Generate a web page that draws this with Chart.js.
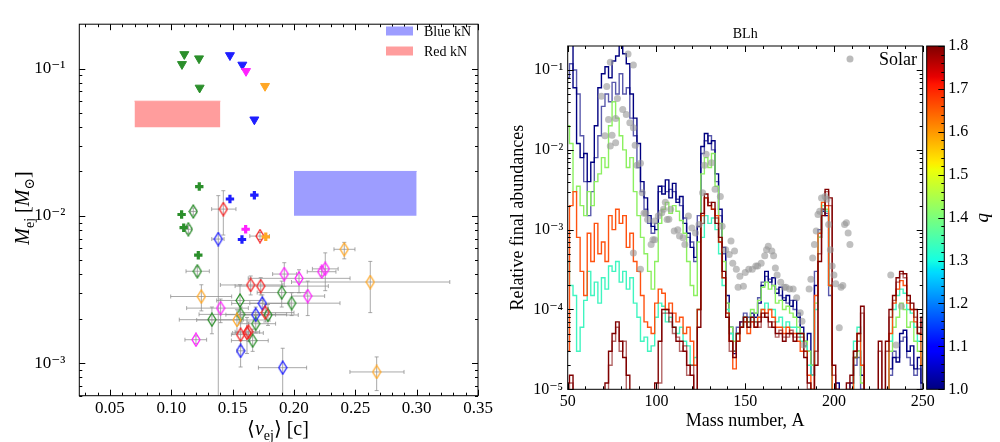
<!DOCTYPE html>
<html>
<head>
<meta charset="utf-8">
<script src="https://cdn.jsdelivr.net/npm/chart.js@4.4.1/dist/chart.umd.min.js"></script>
<style>
  body { margin: 0; background: #fff; }
  #wrap { position: relative; width: 1000px; height: 442px; }
  canvas { position: absolute; top: 0; }
</style>
</head>
<body>
<div id="wrap">
  <canvas id="left" width="500" height="442" style="left:0"></canvas>
  <canvas id="right" width="500" height="442" style="left:500px"></canvas>
</div>
<script>
const FONT = '"Liberation Serif", "DejaVu Serif", serif';

// ---------- left panel: ejecta mass vs mean velocity ----------
const diaColor = ['g','g','g','g','g','g','g','g','g','g','g',
                  'b','b','b','b','b',
                  'r','r','r','r','r','r','r','r',
                  'm','m','m','m','m','m','m',
                  'o','o','o','o','o'];
const diaV = [0.1179, 0.1139, 0.1212, 0.156, 0.1565, 0.1331, 0.1688, 0.1788, 0.1663, 0.19, 0.1981,
              0.1383, 0.1742, 0.1688, 0.1565, 0.1908,
              0.1424, 0.1723, 0.1647, 0.1729, 0.1766, 0.1565, 0.1617, 0.163,
              0.1201, 0.1402, 0.1921, 0.2041, 0.2112, 0.2226, 0.2255,
              0.1245, 0.1535, 0.241, 0.2622, 0.2674];
const diaM = [0.0107, 0.0081, 0.0042, 0.00266, 0.00214, 0.00197, 0.00185, 0.00212, 0.00142, 0.00301, 0.00255,
              0.00695, 0.00254, 0.00213, 0.00121, 0.00093,
              0.0111, 0.00728, 0.00339, 0.00333, 0.0022, 0.00156, 0.0016, 0.00163,
              0.00144, 0.00236, 0.00402, 0.00376, 0.00285, 0.00417, 0.00436,
              0.00283, 0.00196, 0.00592, 0.00355, 0.00087];
const diaVlo = [0.1155, 0.1115, 0.112, 0.137, 0.1226, 0.1065, 0.155, 0.153, 0.149, 0.17, 0.164,
                0.133, 0.1492, 0.1445, 0.1535, 0.171,
                0.1329, 0.164, 0.14, 0.152, 0.156, 0.149, 0.15, 0.152,
                0.1111, 0.1125, 0.1826, 0.1627, 0.198, 0.2108, 0.215,
                0.0995, 0.1207, 0.2326, 0.198, 0.2456];
const diaVhi = [0.1205, 0.1165, 0.131, 0.175, 0.194, 0.1587, 0.185, 0.2035, 0.179, 0.21, 0.2375,
                0.143, 0.1967, 0.185, 0.1595, 0.2103,
                0.1527, 0.18, 0.191, 0.228, 0.2, 0.165, 0.175, 0.172,
                0.1288, 0.1628, 0.2022, 0.2457, 0.225, 0.2342, 0.236,
                0.1492, 0.1804, 0.2497, 0.327, 0.2897];
const diaMlo = [0.0101, 0.0076, 0.0039, 0.00205, 0.0019, 0.00158, 0.0016, 0.0018, 0.0012, 0.0024, 0.0021,
                0.0003, 0.0022, 0.0019, 0.00094, 0.0004,
                0.0074, 0.0069, 0.0029, 0.0029, 0.0019, 0.0013, 0.00116, 0.0014,
                0.00135, 0.00188, 0.0033, 0.003, 0.0021, 0.0039, 0.0031,
                0.00226, 0.0016, 0.0051, 0.0022, 0.00065];
const diaMhi = [0.0113, 0.0086, 0.0045, 0.0034, 0.0024, 0.0024, 0.0021, 0.0025, 0.0017, 0.0036, 0.003,
                0.0137, 0.0029, 0.0024, 0.00142, 0.00126,
                0.0148, 0.0077, 0.0039, 0.0038, 0.0025, 0.0019, 0.00204, 0.0019,
                0.00153, 0.00272, 0.0048, 0.0043, 0.0036, 0.0045, 0.0056,
                0.0034, 0.0023, 0.0066, 0.0049, 0.0011];

const triColor = ['g','g','g','g','b','b','b','m','o'];
const triV = [0.1106, 0.1087, 0.1226, 0.1231, 0.1478, 0.1579, 0.1677, 0.1609, 0.1764];
const triM = [0.125, 0.107, 0.117, 0.074, 0.123, 0.106, 0.045, 0.096, 0.076];

const plusColor = ['g','g','g','g','b','b','b','m','o'];
const plusV = [0.1228, 0.1084, 0.1101, 0.122, 0.1478, 0.1677, 0.1576, 0.1606, 0.177];
const plusM = [0.0158, 0.0102, 0.0083, 0.0054, 0.0130, 0.0138, 0.0069, 0.0081, 0.0072];

const knLabels = ['Blue kN', 'Red kN'];
const knV = [[0.2, 0.3], [0.07, 0.14]];
const knM = [[0.01, 0.02], [0.04, 0.06]];

const leftXTicks = [0.05, 0.10, 0.15, 0.20, 0.25, 0.30, 0.35];
const leftYTicks = [1e-3, 1e-2, 1e-1];

// ---------- right panel: abundances ----------
const massA = [
  50, 52, 54, 56, 58, 60, 62, 64, 66, 68,
  70, 72, 74, 76, 78, 80, 82, 84, 86, 88,
  90, 92, 94, 96, 98, 100, 102, 104, 106, 108,
  110, 112, 114, 116, 118, 120, 122, 124, 126, 128,
  130, 132, 134, 136, 138, 140, 142, 144, 146, 148,
  150, 152, 154, 156, 158, 160, 162, 164, 166, 168,
  170, 172, 174, 176, 178, 180, 182, 184, 186, 188,
  190, 192, 194, 196, 198, 200, 202, 204, 206, 208,
  210, 212, 214, 216, 218, 220, 222, 224, 226, 228,
  230, 232, 234, 236, 238, 240, 242, 244, 246, 248,
  250];

const abNavy = [
  0.3, 0.3, 0.06, 0.012, 0.008, 0.009, 0.004, 0.007, 0.02, 0.06,
  0.09, 0.11, 0.08, 0.13, 0.15, 0.3, 0.16, 0.12, 0.05, 0.025,
  0.012, 0.004, 0.0025, 0.0015, 0.0011, 0.001, 0.0035, 0.0028, 0.0042, 0.0025,
  0.0038, 0.0022, 0.0026, 0.0012, 0.0009, 0.0006, 0.00045, 0.0011, 0.011, 0.016,
  0.012, 0.013, 0.005, 0.0018, 0.0006, 1.5e-4, 6e-5, 2.8e-5, 5e-5, 7e-5,
  8e-5, 7e-5, 9e-5, 8e-5, 1.2e-4, 2e-4, 3e-4, 2.2e-4, 2.5e-4, 1.6e-4,
  1.9e-4, 1.3e-4, 1.5e-4, 1.1e-4, 1.3e-4, 8e-5, 6e-5, 3.5e-5, 5e-5, 1.5e-5,
  2e-4, 8e-4, 1.7e-3, 1.5e-3, 2e-4, 3e-6, 1.2e-5, 4e-6, 3e-6, 3e-6,
  1.2e-5, 2.5e-5, 3e-5, 1.5e-5, 2e-6, 2e-6, 2e-6, 2e-6, 2e-6, 2e-6,
  2e-6, 1.8e-5, 2.5e-5, 2.2e-5, 5e-5, 5.5e-5, 3e-5, 3.5e-5, 1.8e-5, 2.5e-5,
  1.2e-5];
const abNavy2 = [
  0.08, 0.12, 0.1, 0.05, 0.015, 0.004, 0.0015, 0.003, 0.008, 0.015,
  0.035, 0.05, 0.04, 0.07, 0.05, 0.09, 0.05, 0.06, 0.025, 0.015,
  0.006, 0.003, 0.0018, 0.0012, 0.0009, 0.0012, 0.003, 0.0035, 0.003, 0.0032,
  0.003, 0.0024, 0.002, 0.0014, 0.0008, 0.0007, 0.0004, 0.0015, 0.009, 0.013,
  0.015, 0.01, 0.004, 0.0015, 0.0005, 1.2e-4, 5e-5, 3e-5, 6e-5, 6e-5,
  9e-5, 8e-5, 8e-5, 9e-5, 1.4e-4, 2.2e-4, 2.6e-4, 2.4e-4, 2e-4, 1.8e-4,
  1.5e-4, 1.4e-4, 1.2e-4, 1.3e-4, 1e-4, 9e-5, 5e-5, 4e-5, 3e-5, 2e-5,
  3e-4, 1e-3, 1.8e-3, 1.6e-3, 1.5e-4, 3e-6, 8e-6, 3e-6, 3e-6, 3e-6,
  8e-6, 2e-5, 2.5e-5, 1e-5, 2e-6, 2e-6, 2e-6, 2e-6, 2e-6, 2e-6,
  2e-6, 1.5e-5, 3e-5, 2.5e-5, 4e-5, 4.5e-5, 2.5e-5, 2e-5, 1.5e-5, 1.8e-5,
  1e-5];
const abGreen = [
  0.02, 0.012, 0.003, 0.0035, 0.002, 0.0015, 0.003, 0.002, 0.004, 0.005,
  0.008, 0.006, 0.02, 0.04, 0.025, 0.015, 0.01, 0.006, 0.008, 0.003,
  0.0015, 0.0008, 0.0005, 0.0003, 0.00018, 0.0004, 0.0012, 0.0018, 0.0022, 0.0016,
  0.002, 0.0017, 0.0013, 0.0009, 0.0004, 0.0002, 0.00015, 0.0007, 0.005, 0.008,
  0.006, 0.009, 0.0035, 0.0012, 0.0004, 1.2e-4, 6e-5, 4e-5, 5e-5, 6e-5,
  8e-5, 7e-5, 1e-4, 9e-5, 1.3e-4, 1.9e-4, 2.2e-4, 1.8e-4, 2e-4, 1.2e-4,
  1.3e-4, 1e-4, 1.1e-4, 9e-5, 8e-5, 6e-5, 5e-5, 4e-5, 3e-5, 2e-5,
  1.2e-4, 8e-4, 2.2e-3, 1.8e-3, 2e-4, 4e-6, 3e-6, 3e-6, 3e-6, 3e-6,
  8e-6, 2.5e-5, 3e-5, 1.2e-5, 2e-6, 2e-6, 2e-6, 2e-6, 2e-6, 2e-6,
  2e-6, 3e-5, 6e-5, 8e-5, 1.2e-4, 1e-4, 6e-5, 7e-5, 4e-5, 3e-5,
  2e-5];
const abCyan = [
  4e-4, 2e-4, 1.5e-4, 3e-5, 6e-5, 1.3e-4, 3e-4, 1.5e-4, 2.2e-4, 1.2e-4,
  2.5e-4, 1.8e-4, 3.5e-4, 3e-4, 4e-4, 2.2e-4, 3e-4, 1.8e-4, 2.5e-4, 1.2e-4,
  8e-5, 4e-5, 4.5e-5, 3e-5, 3.5e-5, 8e-5, 1.2e-4, 1.1e-4, 7e-5, 8e-5,
  6e-5, 5e-5, 6e-5, 4e-5, 3.5e-5, 2e-5, 2.5e-5, 1e-4, 8e-4, 1.5e-3,
  1.2e-3, 1.4e-3, 1e-3, 5e-4, 2e-4, 1e-4, 5e-5, 3e-5, 5e-5, 6e-5,
  7e-5, 6e-5, 8e-5, 7e-5, 8e-5, 1e-4, 1.2e-4, 1e-4, 1e-4, 7e-5,
  8e-5, 6e-5, 7e-5, 6e-5, 6e-5, 5e-5, 4e-5, 3.5e-5, 2e-5, 1.5e-5,
  1e-4, 9e-4, 2e-3, 1.7e-3, 2e-4, 4e-6, 3e-6, 3e-6, 3e-6, 3e-6,
  1e-5, 4e-5, 6e-5, 2e-5, 2e-6, 2e-6, 2e-6, 2e-6, 2e-6, 2e-6,
  2e-6, 4e-5, 1e-4, 1.5e-4, 1.8e-4, 1.6e-4, 1e-4, 9e-5, 6e-5, 4e-5,
  3e-5];
const abOrange = [
  3e-5, 2e-3, 3e-3, 8e-4, 3e-4, 1.5e-4, 9e-4, 4e-4, 1.2e-3, 5e-4,
  7e-4, 4e-4, 1.5e-3, 1e-3, 1.8e-3, 1.2e-3, 1.5e-3, 6e-4, 9e-4, 4e-4,
  3e-4, 1.5e-4, 7e-5, 6e-5, 5e-5, 1.2e-4, 1.8e-4, 1.6e-4, 1e-4, 1.2e-4,
  9e-5, 7e-5, 8e-5, 5e-5, 6e-5, 4e-5, 2e-5, 1e-4, 1.5e-3, 2.5e-3,
  2e-3, 1.8e-3, 1.5e-3, 7e-4, 2.5e-4, 9e-5, 4e-5, 1.8e-5, 4e-5, 6e-5,
  7e-5, 5e-5, 7e-5, 6e-5, 8e-5, 1e-4, 9e-5, 1e-4, 8e-5, 6e-5,
  6e-5, 5e-5, 6e-5, 5e-5, 5e-5, 4e-5, 3e-5, 3e-5, 1.5e-5, 1e-5,
  1.5e-4, 9e-4, 2.2e-3, 2e-3, 2e-4, 5e-6, 3e-6, 3e-6, 3e-6, 3e-6,
  1e-5, 3e-5, 5e-5, 2e-5, 2e-6, 2e-6, 2e-6, 2e-6, 2e-6, 2e-6,
  2e-6, 5e-5, 1.2e-4, 1.8e-4, 2.3e-4, 2e-4, 1.2e-4, 1e-4, 7e-5, 5e-5,
  2e-5];
const abDarkRed = [
  1.2e-5, 1.5e-5, 5e-6, 2e-6, 2e-6, 2e-6, 2e-6, 2e-6, 2e-6, 2e-6,
  6e-6, 1.2e-5, 3e-5, 5e-5, 7e-5, 4e-5, 2.5e-5, 1.5e-5, 4e-6, 2e-6,
  2e-6, 2e-6, 2e-6, 2e-6, 8e-6, 1.2e-5, 4e-5, 1e-4, 1e-4, 9e-5,
  6e-5, 4e-5, 4e-5, 3e-5, 2e-5, 1.5e-5, 4e-6, 6e-5, 1.6e-3, 2.8e-3,
  2e-3, 2.2e-3, 1.2e-3, 8e-4, 3e-4, 8e-5, 4e-5, 2.5e-5, 5e-5, 6e-5,
  8e-5, 6e-5, 8e-5, 6e-5, 7e-5, 9e-5, 8e-5, 7e-5, 6e-5, 5e-5,
  5e-5, 4e-5, 5e-5, 5e-5, 4e-5, 5e-5, 5e-5, 2.5e-5, 1.2e-5, 8e-6,
  2e-5, 4e-4, 1.5e-3, 3.2e-3, 2.5e-3, 2e-5, 1e-5, 4e-6, 3e-6, 1.2e-5,
  1.5e-5, 3e-5, 5e-5, 1.1e-4, 3e-6, 2e-6, 2e-6, 2e-6, 4e-5, 3e-6,
  4e-5, 1e-4, 1.5e-4, 2.5e-4, 3e-4, 2.8e-4, 1.5e-4, 1.2e-4, 1e-4, 5e-5,
  8e-5];
const abDarkRed2 = [
  4e-6, 1.2e-5, 3e-6, 2e-6, 2e-6, 2e-6, 2e-6, 2e-6, 2e-6, 2e-6,
  2e-6, 8e-6, 2e-5, 4e-5, 6e-5, 3e-5, 4e-5, 8e-6, 3e-6, 2e-6,
  2e-6, 2e-6, 2e-6, 2e-6, 2e-6, 8e-6, 1.2e-5, 9e-5, 9e-5, 7e-5,
  5e-5, 4.5e-5, 3e-5, 3.5e-5, 1.5e-5, 2e-5, 3e-6, 1e-4, 1.2e-3, 2.5e-3,
  2.2e-3, 1.8e-3, 1.4e-3, 7e-4, 2.5e-4, 9e-5, 3e-5, 3e-5, 4e-5, 7e-5,
  7e-5, 7e-5, 7e-5, 7e-5, 6e-5, 8e-5, 9e-5, 6e-5, 7e-5, 4.5e-5,
  5.5e-5, 4.5e-5, 4.5e-5, 5.5e-5, 4.5e-5, 4.5e-5, 4.5e-5, 3e-5, 1e-5, 6e-6,
  3e-5, 5e-4, 1.8e-3, 3e-3, 2e-3, 1.5e-5, 8e-6, 3e-6, 3e-6, 1e-5,
  1.2e-5, 2.5e-5, 4e-5, 9e-5, 3e-6, 2e-6, 2e-6, 2e-6, 3e-5, 2e-6,
  3e-5, 8e-5, 1.3e-4, 2.2e-4, 2.8e-4, 2.5e-4, 1.3e-4, 1e-4, 8e-5, 6e-5,
  7e-5];

const solarA = [69, 72, 74, 84, 87, 78, 73, 77, 81, 83, 85, 87, 71, 75, 77, 74, 88, 89, 91, 92,
  93, 95, 98, 97, 91, 87, 99, 101, 103, 104, 106, 105, 108, 107, 110, 112, 113, 115, 116, 118,
  120, 122, 124, 126, 127, 128, 131, 133, 136, 137, 139, 141, 142, 143, 144, 145, 147, 146, 149, 150,
  152, 154, 156, 157, 159, 161, 162, 163, 165, 166, 167, 168, 170, 172, 173, 175, 177, 179, 181, 182,
  183, 186, 187, 188, 189, 190, 191, 192, 193, 195, 196, 197, 198, 199, 200, 201, 204, 205, 206, 207,
  208, 209, 203, 232, 238, 235, 94, 99];
const solarY = [0.047, 0.062, 0.125, 0.159, 0.116, 0.044, 0.024, 0.0247, 0.032, 0.0277, 0.0218, 0.0189, 0.015, 0.0152, 0.0123, 0.0112, 0.0114, 0.0064, 0.0068, 0.0029,
  0.0016, 0.00134, 0.00075, 0.00065, 0.00032, 0.00051, 0.00128, 0.00148, 0.00163, 0.0018, 0.00134, 0.0022, 0.0018, 0.00135, 0.00096, 0.001, 0.00083, 0.00079, 0.00065, 0.00148,
  0.00105, 0.00091, 0.00116, 0.0029, 0.0064, 0.0088, 0.0069, 0.0032, 0.0026, 0.0011, 0.00056, 0.00049, 0.00072, 0.00038, 0.00054, 0.00032, 0.00026, 0.00019, 0.000195, 0.00029,
  0.00032, 0.00032, 0.00035, 0.00035, 0.00038, 0.00047, 0.00056, 0.00062, 0.00054, 0.00047, 0.00033, 0.00027, 0.00022, 0.00019, 0.00019, 0.00018, 0.00018, 0.00014, 9.1e-5, 7.1e-5,
  3.6e-5, 0.00018, 0.00024, 0.00044, 0.00065, 0.00096, 0.00155, 0.0017, 0.0025, 0.0026, 0.0024, 0.00116, 0.00056, 0.00035, 0.00027, 0.00021, 0.00019, 0.0002, 0.00116, 0.00122,
  0.00091, 0.00065, 5.9e-5, 0.00027, 0.00011, 3.6e-5, 0.0016, 0.00075];

const rightXTicks = [50, 100, 150, 200, 250];
const rightYTicks = [1e-5, 1e-4, 1e-3, 1e-2, 1e-1];
const qTicks = [1.0, 1.1, 1.2, 1.3, 1.4, 1.5, 1.6, 1.7, 1.8];

// ---------- styling ----------
const colorMap = { g: '#2b8f2b', b: '#1e1eff', r: '#f42020', m: '#ff20ff', o: '#ffa726' };
const knColors = ['#9d9dff', '#ff9d9d'];
const errColor = 'rgba(140,140,140,0.75)';

const jetStops = [
  [0, '#000080'], [0.11, '#0000ff'], [0.125, '#0000ff'], [0.34, '#00dbff'],
  [0.35, '#00e5f6'], [0.375, '#15ffe2'], [0.64, '#eeff08'], [0.65, '#f7f600'],
  [0.66, '#ffec00'], [0.89, '#ff1300'], [0.91, '#e80000'], [1, '#800000']
];

const supMap = { '-': '\u207b', '0': '\u2070', '1': '\u00b9', '2': '\u00b2', '3': '\u00b3', '4': '\u2074', '5': '\u2075' };
function powLabel(v) {
  const e = String(Math.round(Math.log10(v)));
  return '10' + e.split('').map(c => supMap[c]).join('');
}

function makeDiamond(color) {
  const c = document.createElement('canvas');
  c.width = 10; c.height = 15;
  const g = c.getContext('2d');
  g.strokeStyle = color;
  g.lineWidth = 1.3;
  g.beginPath();
  g.moveTo(5, 1); g.lineTo(9, 7.5); g.lineTo(5, 14); g.lineTo(1, 7.5); g.closePath();
  g.stroke();
  return c;
}
const diamondImg = {};
Object.keys(colorMap).forEach(k => { diamondImg[k] = makeDiamond(colorMap[k]); });

function logMinor(lo, hi, maxV) {
  const out = [];
  for (let e = lo; e <= hi; e++) {
    for (let d = 2; d <= 9; d++) {
      const v = d * Math.pow(10, e);
      if (v < maxV) out.push(v);
    }
  }
  return out;
}

// inward ticks on all four sides plus a frame
const frameTicks = {
  id: 'frameTicks',
  afterDatasetsDraw(chart, args, opts) {
    const { ctx, chartArea: a } = chart;
    const xs = chart.scales.x, ys = chart.scales.y;
    ctx.save();
    ctx.strokeStyle = '#000';
    ctx.lineWidth = 1;
    ctx.beginPath();
    const tx = (vals, len) => vals.forEach(v => {
      const p = Math.round(xs.getPixelForValue(v)) + 0.5;
      if (p < a.left - 1 || p > a.right + 1) return;
      ctx.moveTo(p, a.bottom); ctx.lineTo(p, a.bottom - len);
      ctx.moveTo(p, a.top); ctx.lineTo(p, a.top + len);
    });
    const ty = (vals, len) => vals.forEach(v => {
      const p = Math.round(ys.getPixelForValue(v)) + 0.5;
      if (p < a.top - 1 || p > a.bottom + 1) return;
      ctx.moveTo(a.left, p); ctx.lineTo(a.left + len, p);
      ctx.moveTo(a.right, p); ctx.lineTo(a.right - len, p);
    });
    tx(opts.xMajor, 6); tx(opts.xMinor, 3);
    ty(opts.yMajor, 6); ty(opts.yMinor, 3);
    ctx.stroke();
    ctx.strokeRect(a.left, a.top, a.right - a.left, a.bottom - a.top);
    ctx.restore();
  }
};

function drawRich(ctx, parts, x, y, rot) {
  ctx.save();
  ctx.translate(x, y);
  ctx.rotate(rot);
  ctx.fillStyle = '#000';
  ctx.textBaseline = 'alphabetic';
  let w = 0;
  parts.forEach(p => { ctx.font = p.f; w += ctx.measureText(p.t).width; });
  let cx = -w / 2;
  parts.forEach(p => {
    ctx.font = p.f;
    ctx.fillText(p.t, cx, p.dy || 0);
    cx += ctx.measureText(p.t).width;
  });
  ctx.restore();
}

const leftDecor = {
  id: 'leftDecor',
  afterDraw(chart) {
    const ctx = chart.ctx;
    const it = 'italic 20px ' + FONT, rm = '20px ' + FONT, sb = '14px ' + FONT;
    drawRich(ctx, [
      { t: 'M', f: it }, { t: 'ej', f: sb, dy: 5 }, { t: ' [', f: rm },
      { t: 'M', f: it }, { t: '\u2299', f: sb, dy: 5 }, { t: ']', f: rm }
    ], 28.5, 208, -Math.PI / 2);
    drawRich(ctx, [
      { t: '\u27e8', f: rm }, { t: 'v', f: it }, { t: 'ej', f: sb, dy: 5 },
      { t: '\u27e9', f: rm }, { t: ' [c]', f: rm }
    ], 278, 435, 0);
    // legend for the kilonova boxes
    ctx.save();
    ctx.font = '14px ' + FONT;
    ctx.textBaseline = 'middle';
    knLabels.forEach((lab, i) => {
      const y = 31 + i * 20;
      ctx.fillStyle = knColors[i];
      ctx.fillRect(386, y - 4.5, 27, 9);
      ctx.fillStyle = '#000';
      ctx.fillText(lab, 424, y + 1);
    });
    ctx.restore();
  }
};

const rightDecor = {
  id: 'rightDecor',
  afterDraw(chart) {
    const { ctx, chartArea: a } = chart;
    const q = chart.scales.q;
    const x0 = a.right + 4, w = 17.6;
    const yTop = q.getPixelForValue(q.max), yBot = q.getPixelForValue(q.min);
    const grad = ctx.createLinearGradient(0, yBot, 0, yTop);
    jetStops.forEach(s => grad.addColorStop(s[0], s[1]));
    ctx.save();
    ctx.fillStyle = grad;
    ctx.fillRect(x0, yTop, w, yBot - yTop);
    ctx.strokeStyle = '#000';
    ctx.lineWidth = 1;
    ctx.strokeRect(x0, yTop, w, yBot - yTop);
    ctx.beginPath();
    for (let k = 0; k <= 40; k++) {
      const p = Math.round(q.getPixelForValue(1 + k * 0.02)) + 0.5;
      const len = k % 5 === 0 ? 6 : 3;
      ctx.moveTo(x0 + w, p); ctx.lineTo(x0 + w - len, p);
    }
    ctx.stroke();
    ctx.fillStyle = '#000';
    // colorbar label, reading bottom to top
    ctx.save();
    ctx.translate(488, (yTop + yBot) / 2);
    ctx.rotate(-Math.PI / 2);
    ctx.font = 'italic 19px ' + FONT;
    ctx.textAlign = 'center';
    ctx.textBaseline = 'alphabetic';
    ctx.fillText('q', 0, 0);
    ctx.restore();
    // title and legend
    ctx.font = '14px ' + FONT;
    ctx.textAlign = 'center';
    ctx.textBaseline = 'middle';
    ctx.fillText('BLh', (a.left + a.right) / 2, 34);
    ctx.fillStyle = 'rgba(150,150,150,0.65)';
    ctx.beginPath();
    ctx.arc(350, 59, 3.5, 0, Math.PI * 2);
    ctx.fill();
    ctx.fillStyle = '#000';
    ctx.font = '18px ' + FONT;
    ctx.textAlign = 'left';
    ctx.fillText('Solar', 379, 60);
    ctx.restore();
  }
};

// ---------- left chart ----------
const hBars = [], vBars = [];
diaV.forEach((v, i) => {
  hBars.push({ x: diaVlo[i], y: diaM[i] }, { x: diaVhi[i], y: diaM[i] }, { x: diaVhi[i], y: null });
  vBars.push({ x: v, y: diaMlo[i] }, { x: v, y: diaMhi[i] }, { x: v, y: null });
});

const knSets = knLabels.map((lab, i) => ({
  label: lab,
  data: [{ x: knV[i][0], y: knM[i][1] }, { x: knV[i][1], y: knM[i][1] }],
  showLine: true,
  fill: { value: knM[i][0] },
  backgroundColor: knColors[i],
  borderColor: knColors[i],
  borderWidth: 1,
  pointRadius: 0,
  order: 6
}));

new Chart(document.getElementById('left'), {
  type: 'scatter',
  data: {
    datasets: [
      ...knSets,
      {
        label: 'xerr', data: hBars, showLine: true, spanGaps: false,
        borderColor: errColor, borderWidth: 1,
        pointStyle: 'line', pointRotation: 90, pointRadius: 2,
        pointBorderColor: errColor, pointBorderWidth: 1, order: 5
      },
      {
        label: 'yerr', data: vBars, showLine: true, spanGaps: false,
        borderColor: errColor, borderWidth: 1,
        pointStyle: 'line', pointRotation: 0, pointRadius: 2,
        pointBorderColor: errColor, pointBorderWidth: 1, order: 4
      },
      {
        label: 'diamonds',
        data: diaV.map((v, i) => ({ x: v, y: diaM[i] })),
        pointStyle: diaColor.map(c => diamondImg[c]),
        pointRadius: 5, order: 3
      },
      {
        label: 'plus',
        data: plusV.map((v, i) => ({ x: v, y: plusM[i] })),
        pointStyle: 'cross', pointRadius: 4.2, pointBorderWidth: 3.2,
        pointBorderColor: plusColor.map(c => colorMap[c]), order: 2
      },
      {
        label: 'triangles',
        data: triV.map((v, i) => ({ x: v, y: triM[i] })),
        pointStyle: 'triangle', pointRotation: 180, pointRadius: 5.2,
        pointBackgroundColor: triColor.map(c => colorMap[c]),
        pointBorderColor: triColor.map(c => colorMap[c]), pointBorderWidth: 1, order: 1
      }
    ]
  },
  options: {
    responsive: false,
    animation: false,
    events: [],
    layout: { padding: { left: 0, right: 22, top: 20.7, bottom: 0 } },
    plugins: {
      legend: { display: false },
      tooltip: { enabled: false },
      frameTicks: {
        xMajor: leftXTicks,
        xMinor: [0.03, 0.04, 0.06, 0.07, 0.08, 0.09, 0.11, 0.12, 0.13, 0.14, 0.16, 0.17, 0.18, 0.19,
                 0.21, 0.22, 0.23, 0.24, 0.26, 0.27, 0.28, 0.29, 0.31, 0.32, 0.33, 0.34],
        yMajor: leftYTicks,
        yMinor: logMinor(-4, -1, 0.2)
      }
    },
    scales: {
      x: {
        type: 'linear', min: 0.025, max: 0.35,
        afterFit: s => { s.height = 46.3; },
        afterBuildTicks: s => { s.ticks = leftXTicks.map(v => ({ value: v })); },
        grid: { display: false, drawTicks: false },
        border: { display: false },
        ticks: { color: '#000', font: { family: FONT, size: 17 }, padding: 3, autoSkip: false, maxRotation: 0,
                 callback: v => v.toFixed(2) }
      },
      y: {
        type: 'logarithmic', min: 6e-4, max: 0.2,
        afterFit: s => { s.width = 79.3; },
        afterBuildTicks: s => { s.ticks = leftYTicks.map(v => ({ value: v })); },
        grid: { display: false, drawTicks: false },
        border: { display: false },
        ticks: { color: '#000', font: { family: FONT, size: 17 }, padding: 14, autoSkip: false,
                 callback: v => powLabel(v) }
      }
    }
  },
  plugins: [frameTicks, leftDecor]
});

// ---------- right chart ----------
const curve = vals => massA.map((a, i) => ({ x: a, y: vals[i] }));
const lineSet = (label, vals, color, order) => ({
  type: 'line', label, data: curve(vals), borderColor: color, borderWidth: 1.4,
  stepped: 'middle', pointRadius: 0, fill: false, yAxisID: 'y', order
});

new Chart(document.getElementById('right'), {
  type: 'scatter',
  data: {
    datasets: [
      {
        label: 'Solar', data: solarA.map((a, i) => ({ x: a, y: solarY[i] })),
        pointRadius: 3.5, pointBackgroundColor: 'rgba(150,150,150,0.6)', pointBorderWidth: 0,
        yAxisID: 'y', order: 0
      },
      lineSet('q=1.8 b', abDarkRed2, 'rgba(128,0,0,0.6)', 2),
      lineSet('q=1.8', abDarkRed, '#800000', 1),
      lineSet('q=1.7', abOrange, '#ff5210', 3),
      lineSet('q=1.3', abCyan, '#40f5c0', 4),
      lineSet('q=1.45', abGreen, '#8cf060', 5),
      lineSet('q=1.0 b', abNavy2, 'rgba(0,0,128,0.65)', 6),
      lineSet('q=1.0', abNavy, '#000080', 7)
    ]
  },
  options: {
    responsive: false,
    animation: false,
    events: [],
    layout: { padding: { left: 0, right: 0, top: 46, bottom: 0 } },
    plugins: {
      legend: { display: false },
      tooltip: { enabled: false },
      frameTicks: {
        xMajor: rightXTicks,
        xMinor: [60, 70, 80, 90, 110, 120, 130, 140, 160, 170, 180, 190, 210, 220, 230, 240],
        yMajor: rightYTicks,
        yMinor: logMinor(-5, -1, 0.2)
      }
    },
    scales: {
      x: {
        type: 'linear', min: 50, max: 250,
        afterFit: s => { s.height = 52.7; },
        afterBuildTicks: s => { s.ticks = rightXTicks.map(v => ({ value: v })); },
        grid: { display: false, drawTicks: false },
        border: { display: false },
        ticks: { color: '#000', font: { family: FONT, size: 16 }, padding: 3, autoSkip: false, maxRotation: 0 },
        title: { display: true, text: 'Mass number, A', color: '#000', font: { family: FONT, size: 18 }, padding: 10 }
      },
      y: {
        type: 'logarithmic', position: 'left', min: 1e-5, max: 0.2,
        afterFit: s => { s.width = 67.7; },
        afterBuildTicks: s => { s.ticks = rightYTicks.map(v => ({ value: v })); },
        grid: { display: false, drawTicks: false },
        border: { display: false },
        ticks: { color: '#000', font: { family: FONT, size: 16 }, padding: 4.5, autoSkip: false,
                 callback: v => powLabel(v) },
        title: { display: true, text: 'Relative final abundances', color: '#000', font: { family: FONT, size: 18 }, padding: 7 }
      },
      q: {
        type: 'linear', position: 'right', min: 1.0, max: 1.8,
        afterFit: s => { s.width = 77.3; },
        afterBuildTicks: s => { s.ticks = qTicks.map(v => ({ value: v })); },
        grid: { display: false, drawTicks: false },
        border: { display: false },
        ticks: { color: '#000', font: { family: FONT, size: 16 }, padding: 25.6, autoSkip: false,
                 callback: v => v.toFixed(1) }
      }
    }
  },
  plugins: [frameTicks, rightDecor]
});
</script>
</body>
</html>
